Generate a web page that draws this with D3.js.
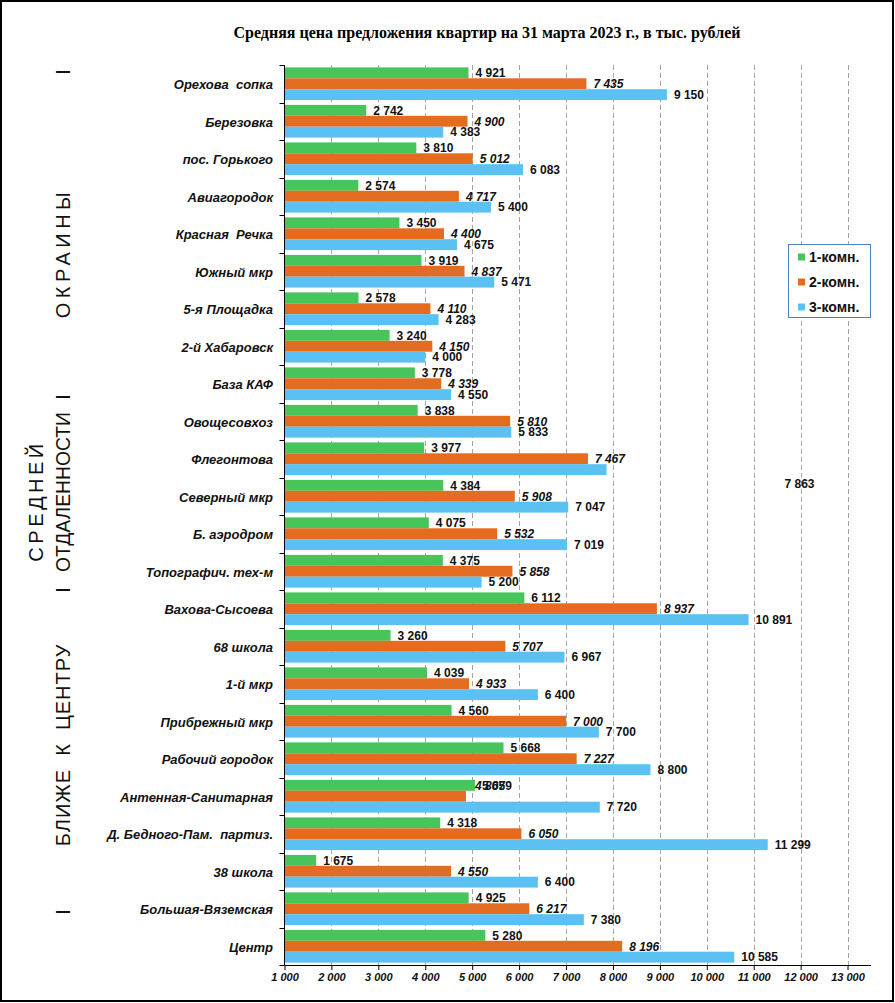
<!DOCTYPE html>
<html><head><meta charset="utf-8">
<script src="https://cdn.jsdelivr.net/npm/d3@7"></script>
<style>body{margin:0;background:#fff}svg{display:block}</style>
</head><body>
<script>
const categories = ["Орехова  сопка","Березовка","пос. Горького","Авиагородок","Красная  Речка","Южный мкр","5-я Площадка","2-й Хабаровск","База КАФ","Овощесовхоз","Флегонтова","Северный мкр","Б. аэродром","Топографич. тех-м","Вахова-Сысоева","68 школа","1-й мкр","Прибрежный мкр","Рабочий городок","Антенная-Санитарная","Д. Бедного-Пам.  партиз.","38 школа","Большая-Вяземская","Центр"];
const room1 = [4921,2742,3810,2574,3450,3919,2578,3240,3778,3838,3977,4384,4075,4375,6112,3260,4039,4560,5668,5059,4318,1675,4925,5280];
const room2 = [7435,4900,5012,4717,4400,4837,4110,4150,4339,5810,7467,5908,5532,5858,8937,5707,4933,7000,7227,4867,6050,4550,6217,8196];
const room3 = [9150,4383,6083,5400,4675,5471,4283,4000,4550,5833,7863,7047,7019,5200,10891,6967,6400,7700,8800,7720,11299,6400,7380,10585];
const seriesNames = ["1-комн.","2-комн.","3-комн."];
const seriesColors = ["#47c45a","#e36c21","#5bc0f2"];
const xTicks = [1000,2000,3000,4000,5000,6000,7000,8000,9000,10000,11000,12000,13000];
const title = "Средняя цена предложения квартир на 31 марта 2023 г., в тыс. рублей";

const W = 895, H = 1003;
const svg = d3.select("body").append("svg").attr("width", W).attr("height", H)
  .style("font-family", "'Liberation Sans', Arial, sans-serif");

svg.append("rect").attr("x",1).attr("y",1).attr("width",W-3).attr("height",H-3)
  .attr("fill","#fff").attr("stroke","#000").attr("stroke-width",2);

const x = d3.scaleLinear().domain([1000, 13500]).range([284.5, 871]);
const y = d3.scaleBand().domain(categories).range([65, 965]).padding(0);
const sub = d3.scaleBand().domain([0,1,2]).range([2.4, 35.1]).padding(0);

// title
svg.append("text").attr("x", 487).attr("y", 38).attr("text-anchor","middle")
  .style("font-family","'Liberation Serif','Times New Roman',serif")
  .style("font-weight","bold").style("font-size","16px").text(title);

// gridlines
svg.append("g").selectAll("line").data(xTicks.filter(t => t > 1000)).join("line")
  .attr("x1", d => Math.round(x(d)) + 0.5).attr("x2", d => Math.round(x(d)) + 0.5)
  .attr("y1", 65).attr("y2", 965)
  .attr("stroke", "#a6a6a6").attr("stroke-width", 1).attr("stroke-dasharray", "5,3");

const rows = categories.map((c, i) => ({cat: c, vals: [room1[i], room2[i], room3[i]]}));

const g = svg.append("g");
rows.forEach(r => {
  r.vals.forEach((v, k) => {
    g.append("rect").attr("x", x(1000)).attr("y", y(r.cat) + sub(k))
      .attr("width", x(v) - x(1000)).attr("height", sub.bandwidth())
      .attr("fill", seriesColors[k]);
  });
});

const fmt = v => d3.format(",")(v).replace(/,/g, " ");
const lbl = svg.append("g").style("font-size","12px").style("font-weight","bold").attr("fill","#111");
rows.forEach(r => {
  r.vals.forEach((v, k) => {
    let lx = x(v) + 7, ly = y(r.cat) + sub(k) + sub.bandwidth()/2;
    if (r.cat === "Антенная-Санитарная" && k === 1) { ly -= sub.bandwidth(); lx += 2; }
    if (r.cat === "Флегонтова" && k === 2) { lx = x(v) + 178; ly += 14; }
    lbl.append("text").attr("x", lx).attr("y", ly).attr("dy","0.36em")
      .style("font-style", k === 1 ? "italic" : "normal")
      .text(fmt(v));
  });
});

// y axis
const yAxisG = svg.append("g");
yAxisG.append("line").attr("x1", 284.5).attr("x2", 284.5).attr("y1", 65).attr("y2", 965).attr("stroke","#000");
yAxisG.selectAll("line.t").data(d3.range(categories.length + 1)).join("line").attr("class","t")
  .attr("x1", 279.5).attr("x2", 284.5)
  .attr("y1", i => Math.round(65 + i * y.step()) + 0.5).attr("y2", i => Math.round(65 + i * y.step()) + 0.5)
  .attr("stroke","#000");
svg.append("g").selectAll("text").data(categories).join("text")
  .attr("x", 273).attr("y", d => y(d) + y.bandwidth()/2 + 1).attr("dy","0.36em")
  .attr("text-anchor","end").attr("xml:space","preserve").style("white-space","pre")
  .style("font-size","13px").style("font-weight","bold").style("font-style","italic")
  .attr("fill","#111").text(d => d);

// x axis
const xAxis = d3.axisBottom(x).tickValues(xTicks).tickSize(5).tickFormat(fmt);
const xg = svg.append("g").attr("transform","translate(0,965)").call(xAxis);
xg.select(".domain").attr("d", `M284.5,0.5H871`).attr("stroke","#000");
xg.selectAll(".tick line").attr("stroke","#000");
xg.selectAll(".tick text").attr("y", 8).attr("fill","#111")
  .style("font-family","'Liberation Sans', Arial, sans-serif")
  .style("font-size","11px").style("font-weight","bold").style("font-style","italic");

// legend
const lg = svg.append("g");
lg.append("rect").attr("x", 788.5).attr("y", 244.5).attr("width", 82).attr("height", 73)
  .attr("fill","#fff").attr("stroke","#4f81bd").attr("stroke-width",1);
seriesNames.forEach((n, k) => {
  const cy = 257 + k * 25;
  lg.append("rect").attr("x", 798).attr("y", cy - 3.5).attr("width", 7).attr("height", 7).attr("fill", seriesColors[k]);
  lg.append("text").attr("x", 809).attr("y", cy).attr("dy","0.36em")
    .style("font-size","14px").style("font-weight","bold").attr("fill","#111").text(n);
});

// side annotations
const side = svg.append("g").style("font-size","20px").attr("fill","#111");
function vtext(cx, cy, txt, opts = {}) {
  const t = side.append("text").attr("transform", `translate(${cx},${cy}) rotate(-90)`)
    .attr("text-anchor","middle").attr("dy","0.36em").text(txt);
  if (opts.ls) t.style("letter-spacing", opts.ls + "px");
  if (opts.len) t.attr("textLength", opts.len).attr("lengthAdjust","spacingAndGlyphs");
  if (opts.fs) t.style("font-size", opts.fs + "px");
  return t;
}
[72, 397, 590, 912].forEach(py => vtext(63, py, "I"));
vtext(63, 253, "ОКРАИНЫ", {ls: 4.5});
vtext(36, 501, "СРЕДНЕЙ", {ls: 3.5});
vtext(63, 492, "ОТДАЛЕННОСТИ", {len: 160});
vtext(63, 745, "БЛИЖЕ  К  ЦЕНТРУ", {ls: 1}).attr("xml:space","preserve").style("white-space","pre");
</script>
</body></html>
